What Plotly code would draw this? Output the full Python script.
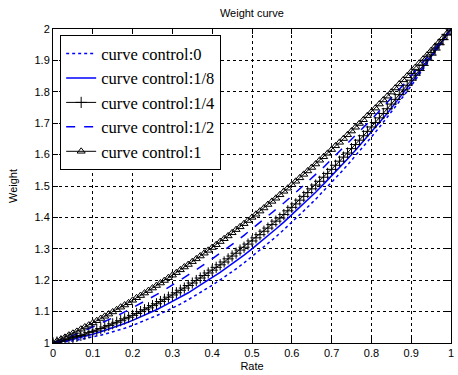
import plotly.graph_objects as go

rate = [round(i * 0.02, 2) for i in range(51)]
rate_fine = [round(i * 0.01, 2) for i in range(101)]

w_c0 = [1.000, 1.002, 1.005, 1.009, 1.014, 1.019, 1.025, 1.032, 1.039, 1.047,
        1.056, 1.066, 1.076, 1.087, 1.099, 1.111, 1.124, 1.138, 1.153, 1.168,
        1.184, 1.201, 1.218, 1.236, 1.255, 1.275, 1.295, 1.316, 1.338, 1.361,
        1.384, 1.408, 1.433, 1.458, 1.484, 1.511, 1.539, 1.567, 1.596, 1.626,
        1.656, 1.687, 1.719, 1.752, 1.785, 1.819, 1.854, 1.889, 1.925, 1.962, 2.000]

w_c18 = [1.000, 1.004, 1.009, 1.015, 1.021, 1.028, 1.036, 1.044, 1.052, 1.062,
         1.072, 1.083, 1.094, 1.106, 1.119, 1.132, 1.146, 1.160, 1.176, 1.192,
         1.208, 1.225, 1.243, 1.261, 1.280, 1.300, 1.320, 1.341, 1.363, 1.385,
         1.408, 1.432, 1.456, 1.480, 1.506, 1.532, 1.559, 1.586, 1.614, 1.643,
         1.672, 1.702, 1.732, 1.764, 1.796, 1.828, 1.861, 1.895, 1.929, 1.964, 2.000]

w_c14 = [1.000, 1.003, 1.006, 1.010, 1.013, 1.017, 1.021, 1.024, 1.028, 1.033,
         1.037, 1.041, 1.046, 1.051, 1.056, 1.061, 1.066, 1.071, 1.077, 1.082,
         1.088, 1.094, 1.100, 1.106, 1.112, 1.119, 1.125, 1.132, 1.139, 1.146,
         1.153, 1.160, 1.168, 1.175, 1.183, 1.191, 1.199, 1.207, 1.215, 1.223,
         1.232, 1.241, 1.249, 1.258, 1.268, 1.277, 1.286, 1.296, 1.305, 1.315,
         1.325, 1.335, 1.345, 1.356, 1.366, 1.377, 1.388, 1.398, 1.409, 1.421,
         1.432, 1.443, 1.455, 1.467, 1.479, 1.491, 1.503, 1.515, 1.528, 1.540,
         1.553, 1.566, 1.579, 1.592, 1.605, 1.619, 1.632, 1.646, 1.660, 1.674,
         1.688, 1.702, 1.717, 1.731, 1.746, 1.761, 1.776, 1.791, 1.806, 1.821,
         1.837, 1.853, 1.868, 1.884, 1.901, 1.917, 1.933, 1.950, 1.966, 1.983, 2.000]

w_c12 = [1.000, 1.009, 1.019, 1.029, 1.040, 1.051, 1.062, 1.074, 1.086, 1.099,
         1.112, 1.126, 1.140, 1.154, 1.169, 1.185, 1.200, 1.217, 1.233, 1.250,
         1.268, 1.286, 1.304, 1.323, 1.343, 1.363, 1.383, 1.403, 1.424, 1.446,
         1.468, 1.490, 1.513, 1.537, 1.560, 1.585, 1.609, 1.634, 1.660, 1.686,
         1.712, 1.739, 1.766, 1.794, 1.822, 1.851, 1.880, 1.909, 1.939, 1.969, 2.000]

w_c1 = [1.000, 1.006, 1.012, 1.018, 1.025, 1.031, 1.037, 1.044, 1.051, 1.057,
        1.064, 1.071, 1.078, 1.085, 1.092, 1.099, 1.106, 1.114, 1.121, 1.128,
        1.136, 1.144, 1.151, 1.159, 1.167, 1.175, 1.183, 1.191, 1.199, 1.208,
        1.216, 1.224, 1.233, 1.242, 1.250, 1.259, 1.268, 1.277, 1.286, 1.295,
        1.304, 1.313, 1.323, 1.332, 1.341, 1.351, 1.361, 1.370, 1.380, 1.390,
        1.400, 1.410, 1.420, 1.430, 1.441, 1.451, 1.461, 1.472, 1.483, 1.493,
        1.504, 1.515, 1.526, 1.537, 1.548, 1.559, 1.570, 1.582, 1.593, 1.604,
        1.616, 1.628, 1.639, 1.651, 1.663, 1.675, 1.687, 1.699, 1.711, 1.724,
        1.736, 1.748, 1.761, 1.774, 1.786, 1.799, 1.812, 1.825, 1.838, 1.851,
        1.864, 1.877, 1.891, 1.904, 1.917, 1.931, 1.945, 1.958, 1.972, 1.986, 2.000]

names = ["curve control:0", "curve control:1/8", "curve control:1/4",
         "curve control:1/2", "curve control:1"]

x_ticks = [0, 0.1, 0.2, 0.3, 0.4, 0.5, 0.6, 0.7, 0.8, 0.9, 1]
x_tick_labels = ["0", "0.1", "0.2", "0.3", "0.4", "0.5", "0.6", "0.7", "0.8", "0.9", "1"]
y_ticks = [1, 1.1, 1.2, 1.3, 1.4, 1.5, 1.6, 1.7, 1.8, 1.9, 2]
y_tick_labels = ["1", "1.1", "1.2", "1.3", "1.4", "1.5", "1.6", "1.7", "1.8", "1.9", "2"]

fig = go.Figure()
fig.add_trace(go.Scatter(x=rate, y=w_c0, name=names[0], mode="lines",
                         line=dict(color="#0000ff", width=1.5, dash="dot")))
fig.add_trace(go.Scatter(x=rate, y=w_c18, name=names[1], mode="lines",
                         line=dict(color="#0000ff", width=1.5)))
fig.add_trace(go.Scatter(x=rate_fine, y=w_c14, name=names[2], mode="lines+markers",
                         line=dict(color="black", width=1),
                         marker=dict(symbol="cross-thin-open", size=8,
                                     line=dict(color="black", width=1))))
fig.add_trace(go.Scatter(x=rate, y=w_c12, name=names[3], mode="lines",
                         line=dict(color="#0000ff", width=1.5, dash="dash")))
fig.add_trace(go.Scatter(x=rate_fine, y=w_c1, name=names[4], mode="lines+markers",
                         line=dict(color="black", width=1),
                         marker=dict(symbol="triangle-up-open", size=7,
                                     color="black", line=dict(color="black", width=1))))

axis_common = dict(showline=True, linecolor="black", linewidth=1, mirror="ticks",
                   ticks="inside", ticklen=5, tickcolor="black",
                   showgrid=True, gridcolor="black", gridwidth=1, griddash="3px,3px",
                   zeroline=False, tickfont=dict(family="Liberation Sans", size=11, color="black"))

fig.update_xaxes(range=[0, 1], tickvals=x_ticks, ticktext=x_tick_labels,
                 title=dict(text="Rate", standoff=4,
                            font=dict(family="Liberation Sans", size=11, color="black")),
                 **axis_common)
fig.update_yaxes(range=[1, 2], tickvals=y_ticks, ticktext=y_tick_labels,
                 title=dict(text="Weight", standoff=14,
                            font=dict(family="Liberation Sans", size=11, color="black")),
                 **axis_common)

fig.update_layout(
    width=458, height=375,
    margin=dict(l=53, r=4, t=29, b=32),
    paper_bgcolor="white", plot_bgcolor="white",
    title=dict(text="Weight curve", x=0.55, xanchor="center", y=0.975, yanchor="top",
               font=dict(family="Liberation Sans", size=11, color="black")),
    legend=dict(x=0.018, y=0.98, xanchor="left", yanchor="top",
                bgcolor="white", bordercolor="black", borderwidth=1,
                font=dict(family="Liberation Serif", size=16.5, color="black"),
                tracegroupgap=0),
    showlegend=True,
)

fig.write_html("out.html")
